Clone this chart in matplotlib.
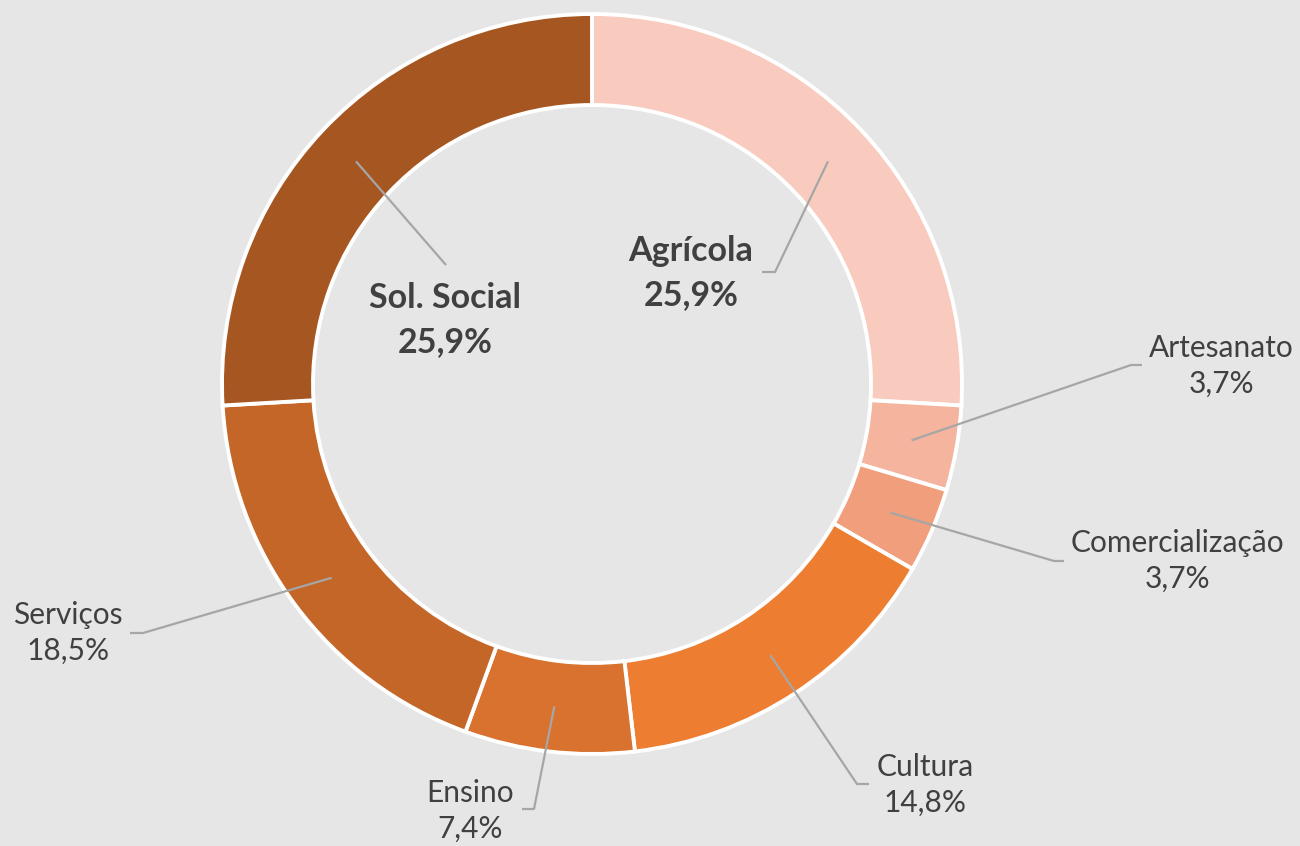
import numpy as np
import matplotlib
matplotlib.use("Agg")
import matplotlib.pyplot as plt

categories = ["Agrícola", "Artesanato", "Comercialização", "Cultura", "Ensino", "Serviços", "Sol. Social"]
values = [25.9, 3.7, 3.7, 14.8, 7.4, 18.5, 25.9]
pct_labels = ["25,9%", "3,7%", "3,7%", "14,8%", "7,4%", "18,5%", "25,9%"]
colors = ["#F8CBBE", "#F4B49E", "#F09E7B", "#ED7D31", "#D9722E", "#C46628", "#A65621"]
bold = [True, False, False, False, False, False, True]

W, H = 1300, 846
BG = "#E7E6E6"
fig = plt.figure(figsize=(W / 100, H / 100), dpi=100, facecolor=BG)
ax = fig.add_axes([0, 0, 1, 1])
ax.set_facecolor(BG)
ax.set_xlim(0, W)
ax.set_ylim(0, H)
ax.set_aspect("equal")
ax.axis("off")

cx, cy = 592, H - 384
R = 370
ring = 91

wedges, _ = ax.pie(values, colors=colors, startangle=90, counterclock=False,
                   radius=R, center=(cx, cy),
                   wedgeprops=dict(width=ring, edgecolor="white", linewidth=2.8))
ax.set_xlim(0, W)
ax.set_ylim(0, H)

# label layout: (text center x, text center y in pixels from top, elbow x, elbow y, end x) in pixel coords
layout = [
    (691, 273, 775, 272, 762),
    (1221, 366, 1131, 365, 1142),
    (1177, 561, 1054, 561, 1064),
    (925, 785, 857, 784, 869),
    (470, 811, 534, 809, 522),
    (68, 633, 143, 633, 130),
    (445, 320, 446, 265, None),
]

total = sum(values)
cum = 0.0
r_mid = R - ring / 2
for i, v in enumerate(values):
    mid = (cum + v / 2) / total * 2 * np.pi
    cum += v
    sx = cx + r_mid * np.sin(mid)
    sy = cy + r_mid * np.cos(mid)
    tx, ty, ex, ey, endx = layout[i]
    xs = [sx, ex]
    ys = [sy, H - ey]
    if endx is not None:
        xs.append(endx)
        ys.append(H - ey)
    ax.plot(xs, ys, color="#A6A6A6", lw=1.6, solid_capstyle="butt", zorder=5)
    if bold[i]:
        ax.text(tx, H - ty, categories[i] + "\n" + pct_labels[i], ha="center", va="center",
                fontsize=24.5, fontweight="bold", color="#404040", family="Lato",
                linespacing=1.45, zorder=6)
    else:
        ax.text(tx, H - ty, categories[i] + "\n" + pct_labels[i], ha="center", va="center",
                fontsize=21.5, color="#404040", family="Lato",
                linespacing=1.33, zorder=6)

fig.savefig("out.png", dpi=100, facecolor=BG)
